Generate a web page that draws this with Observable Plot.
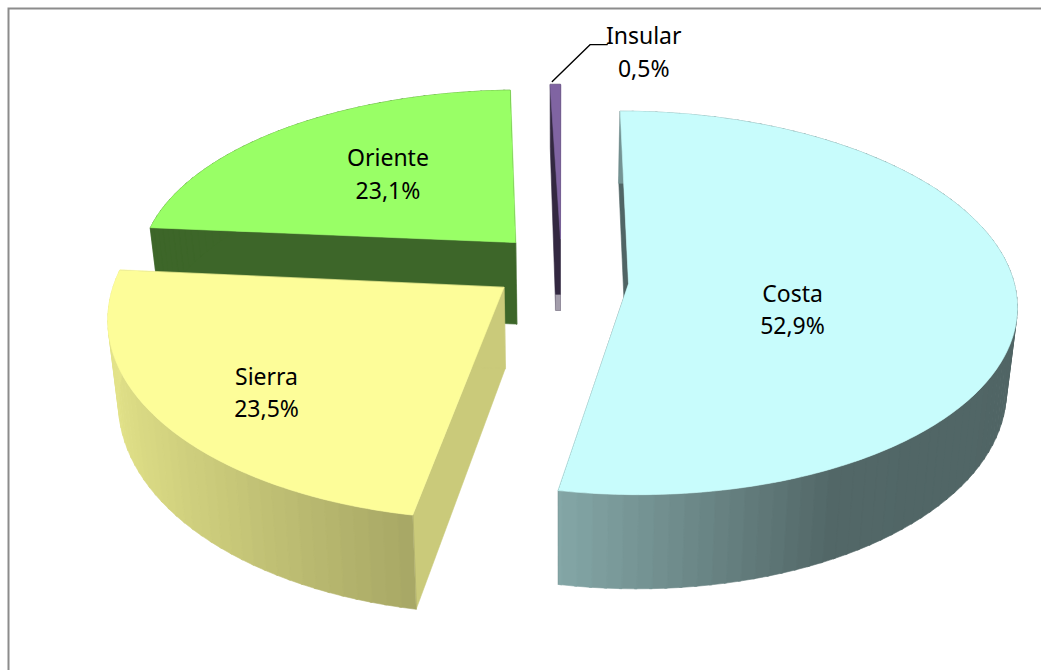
<!DOCTYPE html>
<html>
<head>
<meta charset="utf-8">
<style>html,body{margin:0;padding:0;background:#fff;overflow:hidden}</style>
<script src="https://cdn.jsdelivr.net/npm/d3@7"></script>
<script src="https://cdn.jsdelivr.net/npm/@observablehq/plot@0.6"></script>
</head>
<body>
<div id="chart"></div>
<script>
// ---- data
const regions = ["Costa", "Sierra", "Oriente", "Insular"];
const shares = [52.9, 23.5, 23.1, 0.5];

// ---- styling of each slice
const topColors = ["#c8fcfc", "#fdfd99", "#99ff66", "#8064a2"];
const sideShade = [0.40, 0.80, 0.40, 0.40];

// ---- exploded position of each slice on the tilted ground plane
const worldX = [628, 503.5, 513.7, 560];
const worldDepth = [-0.033, 0.0215, -0.228, -0.25];
const apexDepth = [0, 0.0215, -0.228, -0.25];
const depthStretch = [1.027, 1.073, 0.982, 1];
const radiusScale = [1, 1.01, 0.99, 1];
const sliceHeight = [82, 81, 84, 74];
const labelAt = [[0.415, 0.16], [-0.562, 0.516], [-0.365, -0.425], [0.258, -1.262]];

// ---- camera
const vanishX = 560, vanishY = -1140, groundSpan = 1423, depthPerUnit = 0.13, radius = 386, sink = 0.00029;

function project(wx, depth, lift = 0) {
  const w = 1 - depthPerUnit * depth;
  return {x: vanishX + (wx - vanishX) / w * (1 - sink * lift), y: vanishY + groundSpan / w + lift / w};
}
function rimPoint(i, deg, lift = 0) {
  const a = deg * Math.PI / 180;
  return project(worldX[i] + radius * radiusScale[i] * Math.sin(a), worldDepth[i] - depthStretch[i] * Math.cos(a), lift);
}
function scaleColor(hex, f) {
  const c = d3.rgb(hex);
  return d3.rgb(c.r * f, c.g * f, c.b * f).formatHex();
}
// light falls from the left: outer wall gets darker as it turns to the right
const wallLight = d3.scaleLinear().domain([-1, -0.18, 0.45, 1]).range([0.9, 0.66, 0.41, 0.40]).clamp(true);

const total = d3.sum(shares);
const ends = d3.cumsum(shares).map(v => v / total * 360);
const starts = ends.map((e, i) => i ? ends[i - 1] : 0);

const points = [];
let serial = 0;
function face(corners, color) {
  const id = serial++;
  for (const p of corners) points.push({x: p.x, y: p.y, id, color});
}
for (const i of [2, 3, 1, 0]) {
  const centre = project(worldX[i], apexDepth[i]);
  const centreLow = project(worldX[i], apexDepth[i], sliceHeight[i]);
  const h = sliceHeight[i], side = scaleColor(topColors[i], sideShade[i]);
  const dark = scaleColor(topColors[i], 0.4);
  if (i === 3) {
    // the sliver is so thin that its wall shows as a narrow dark core with a pale foot
    const coreLow = project(worldX[i] - 5, apexDepth[i], h);
    const footTop = project(worldX[i] - 5, apexDepth[i], h - 16);
    const footRight = project(worldX[i], apexDepth[i], h - 16);
    face([rimPoint(i, starts[i]), rimPoint(i, starts[i], h), coreLow, centreLow, centre, rimPoint(i, ends[i])], dark);
    face([footTop, footRight, centreLow, coreLow], "#a39dab");
  } else {
    // two radial walls
    face([centre, rimPoint(i, starts[i]), rimPoint(i, starts[i], h), centreLow], i === 1 ? side : dark);
    face([centre, rimPoint(i, ends[i]), rimPoint(i, ends[i], h), centreLow], side);
    // outer wall, in narrow strips
    for (const d of d3.range(starts[i], ends[i], 2)) {
      const e = Math.min(d + 2.3, ends[i]);
      const shade = i === 0 || i === 1 ? wallLight(Math.sin((d + 1) * Math.PI / 180)) : 0.4;
      face([rimPoint(i, d), rimPoint(i, e), rimPoint(i, e, h), rimPoint(i, d, h)], scaleColor(topColors[i], shade));
    }
  }
  // top surface
  const top = [centre];
  for (const d of d3.range(starts[i], ends[i], 1)) top.push(rimPoint(i, d));
  top.push(rimPoint(i, ends[i]));
  face(top, topColors[i]);
}

const labels = regions.map((name, i) => {
  const [fx, fq] = labelAt[i];
  const p = project(worldX[i] + radius * fx, worldDepth[i] + fq);
  return {x: p.x, y: p.y, text: `${name}\n${shares[i].toFixed(1).replace(".", ",")}%`};
});

const tip = rimPoint(3, (starts[3] + ends[3]) / 2);
const leader = [
  {x: tip.x - 3, y: tip.y - 3},
  {x: tip.x + 35, y: tip.y - 40},
  {x: tip.x + 52, y: tip.y - 40}
];

const chart = Plot.plot({
  width: 1041,
  height: 670,
  margin: 0,
  x: {domain: [0, 1041], range: [0, 1041], axis: null},
  y: {domain: [0, 670], range: [0, 670], axis: null},
  color: {type: "identity"},
  style: {background: "#fff"},
  marks: [
    Plot.frame({stroke: "#8c8c8c", strokeWidth: 2, insetLeft: 8, insetTop: 8, insetRight: -10, insetBottom: -10}),
    Plot.line(points, {x: "x", y: "y", z: "id", fill: "color", stroke: "color", strokeWidth: 0.6, curve: "linear-closed"}),
    Plot.line(leader, {x: "x", y: "y", stroke: "#000", strokeWidth: 1.4}),
    Plot.text(labels, {x: "x", y: "y", text: "text", fontSize: 23, lineHeight: 1.42, fill: "#000", fontFamily: "'Noto Sans', sans-serif"})
  ]
});
document.getElementById("chart").append(chart);
</script>
</body>
</html>
